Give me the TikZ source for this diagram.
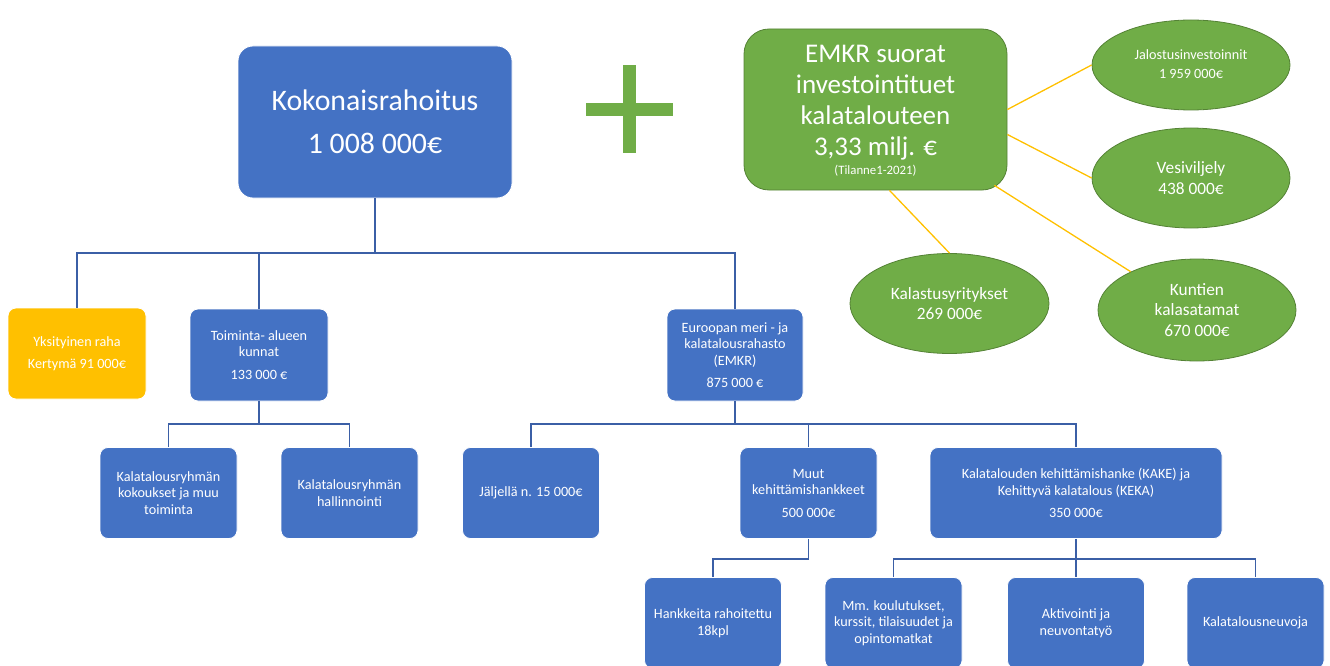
\documentclass[tikz,border=0pt]{standalone}
\usepackage{fontspec}
\setmainfont{Carlito}
\usetikzlibrary{shapes.geometric}
\definecolor{boxblue}{HTML}{4472C4}
\definecolor{lineblue}{HTML}{3B5FA6}
\definecolor{boxyellow}{HTML}{FFC000}
\definecolor{boxgreen}{HTML}{70AD47}
\definecolor{edgegreen}{HTML}{548235}
\definecolor{plusgreen}{HTML}{70AD47}
\tikzset{
  bluebox/.style={rectangle, rounded corners=8pt, fill=boxblue, draw=white, line width=0.8pt,
    text=white, align=center, inner sep=0pt, minimum width=137pt, minimum height=91pt,
    font=\fontsize{14.2}{16.5}\selectfont},
  yellowbox/.style={bluebox, fill=boxyellow},
  greenell/.style={ellipse, fill=boxgreen, draw=edgegreen, line width=0.8pt, text=white,
    align=center, inner sep=0pt, font=\fontsize{17.3}{20.5}\selectfont},
  treeline/.style={draw=lineblue, line width=1.8pt},
  yline/.style={draw=boxyellow, line width=1.3pt},
}
\begin{document}
\begin{tikzpicture}[x=1pt,y=-1pt]
\clip (0,0) rectangle (1330,666);
\useasboundingbox (0,0) rectangle (1330,666);

% main box
\node[bluebox, rounded corners=15pt, minimum width=274pt, minimum height=152pt,
  font=\fontsize{29.8}{43}\selectfont] (tot) at (375,122) {Kokonaisrahoitus\\1 008 000€};

% plus sign
\fill[plusgreen] (623,65) rectangle (636,153);
\fill[plusgreen] (586,103) rectangle (673,116);

% green box
\node[rectangle, rounded corners=25pt, fill=boxgreen, draw=edgegreen, line width=0.8pt,
  minimum width=263pt, minimum height=161pt, inner sep=0pt] (emkr) at (875.5,109.5) {};
\node[text=white, align=center, inner sep=0pt, font=\fontsize{27}{31}\selectfont]
  (emkrtxt) at (875.5,103) {EMKR suorat\\investointituet\\kalatalouteen\\3,33 milj. €};
\node[text=white, inner sep=0pt, font=\fontsize{12.8}{13}\selectfont] (tila) at (875.5,171) {(Tilanne1-2021)};

% ellipses
\node[greenell, minimum width=198pt, minimum height=90pt, font=\fontsize{14.2}{19}\selectfont]
  (jalo) at (1191,65) {\raisebox{2.5pt}{\begin{tabular}{@{}c@{}}Jalostusinvestoinnit\\1 959 000€\end{tabular}}};
\node[greenell, minimum width=198pt, minimum height=100pt] (ves) at (1191,178) {Vesiviljely\\438 000€};
\node[greenell, minimum width=199pt, minimum height=100pt] (kal) at (949.5,303.5) {Kalastusyritykset\\269 000€};
\node[greenell, minimum width=198pt, minimum height=102pt] (kun) at (1197,310) {Kuntien\\kalasatamat\\670 000€};

% yellow connectors
\draw[yline] (emkr.east) -- (jalo.west);
\draw[yline] ([yshift=-25pt]emkr.east) -- (ves.west);
\draw[yline] ([xshift=-13pt,yshift=5pt]emkr.south east) -- (kun.150);
\draw[yline] ([xshift=14pt]emkr.south) -- (kal.north);

% level 2
\node[yellowbox, minimum width=138pt, minimum height=91pt] (yks) at (77,353.5)
  {Yksityinen raha\\[6pt]Kertymä 91 000€};
\node[bluebox, minimum width=138pt, minimum height=92pt] (toim) at (259,355)
  {Toiminta- alueen\\kunnat\\[6pt]133 000 €};
\node[bluebox, minimum width=136pt, minimum height=92pt] (eur) at (735,355)
  {Euroopan meri - ja\\kalatalousrahasto\\(EMKR)\\[6pt]875 000 €};

% level 3
\node[bluebox] (kok) at (168.5,493) {Kalatalousryhmän\\kokoukset ja muu\\toiminta};
\node[bluebox] (hal) at (349.5,493) {Kalatalousryhmän\\hallinnointi};
\node[bluebox] (jalj) at (531,493) {Jäljellä n. 15 000€};
\node[bluebox] (muut) at (808.5,493) {Muut\\kehittämishankkeet\\[6pt]500 000€};
\node[bluebox, minimum width=292pt] (kak) at (1076,493)
  {Kalatalouden kehittämishanke (KAKE) ja\\Kehittyvä kalatalous (KEKA)\\[6pt]350 000€};

% level 4
\node[bluebox] (hank) at (713,623) {Hankkeita rahoitettu\\18kpl};
\node[bluebox] (mm) at (893.5,623) {Mm. koulutukset,\\kurssit, tilaisuudet ja\\opintomatkat};
\node[bluebox] (akt) at (1076,623) {Aktivointi ja\\neuvontatyö};
\node[bluebox] (neu) at (1255.5,623) {Kalatalousneuvoja};

% tree connectors
\coordinate (bus1) at (375,253);
\coordinate (bus2) at (259,424);
\coordinate (bus3) at (735,424);
\coordinate (bus4) at (808.5,559);
\coordinate (bus5) at (1076,559);

\draw[treeline, line width=2.4pt] (tot.south) -- (bus1);
\draw[treeline] (yks.north) |- (eur.north |- bus1) -- (eur.north);
\draw[treeline] (toim.north) -- (toim.north |- bus1);

\draw[treeline] (toim.south) -- (bus2);
\draw[treeline] (kok.north) |- (hal.north |- bus2) -- (hal.north);

\draw[treeline] (eur.south) -- (bus3);
\draw[treeline] (jalj.north) |- (kak.north |- bus3) -- (kak.north);
\draw[treeline] (muut.north) -- (muut.north |- bus3);

\draw[treeline] (muut.south) -- (bus4) -| (hank.north);

\draw[treeline] (kak.south) -- (akt.north);
\draw[treeline] (mm.north) |- (neu.north |- bus5) -- (neu.north);
\end{tikzpicture}
\end{document}
